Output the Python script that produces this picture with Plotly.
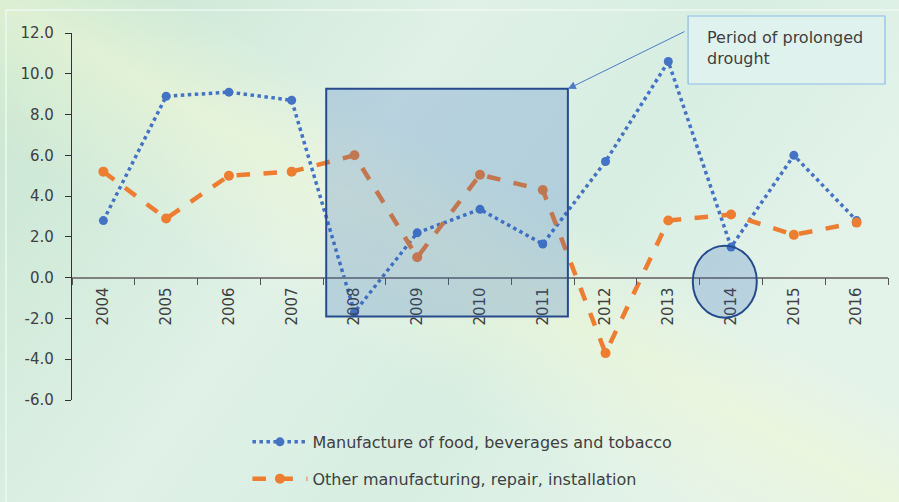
import urllib.parse
import plotly.graph_objects as go

years = ["2004", "2005", "2006", "2007", "2008", "2009", "2010",
         "2011", "2012", "2013", "2014", "2015", "2016"]
food_bev_tobacco = [2.8, 8.9, 9.1, 8.7, -1.7, 2.2, 3.35, 1.65, 5.7, 10.6, 1.5, 6.0, 2.8]
other_manufacturing = [5.2, 2.9, 5.0, 5.2, 6.0, 1.0, 5.05, 4.3, -3.7, 2.8, 3.1, 2.1, 2.7]
y_ticks = [-6, -4, -2, 0, 2, 4, 6, 8, 10, 12]
y_tick_text = ["%.1f" % v for v in y_ticks]

FONT = "DejaVu Sans"
BLUE = "#4472C4"
ORANGE = "#ED7D31"
TEXT = "#404040"

# soft green backdrop as an inline SVG gradient
bg_svg = (
    "<svg xmlns='http://www.w3.org/2000/svg' width='899' height='502' viewBox='0 0 899 502'>"
    "<defs>"
    "<linearGradient id='g' x1='0' y1='0' x2='1' y2='0.4'>"
    "<stop offset='0' stop-color='#c6e5cf'/>"
    "<stop offset='0.45' stop-color='#e0f1e7'/>"
    "<stop offset='0.7' stop-color='#d8eee2'/>"
    "<stop offset='1' stop-color='#e4f3ea'/>"
    "</linearGradient>"
    "<linearGradient id='b' x1='0' y1='1' x2='1' y2='0'>"
    "<stop offset='0.35' stop-color='#f2f8d8' stop-opacity='0'/>"
    "<stop offset='0.5' stop-color='#f0f8d6' stop-opacity='0.55'/>"
    "<stop offset='0.6' stop-color='#f2f8d8' stop-opacity='0'/>"
    "</linearGradient>"
    "</defs>"
    "<rect width='899' height='502' fill='url(#g)'/>"
    "<rect width='899' height='502' fill='url(#b)'/>"
    "<rect x='6' y='10' width='900' height='500' fill='none' stroke='#eef7f1' stroke-width='1.5'/>"
    "</svg>"
)
bg_uri = "data:image/svg+xml;charset=utf-8," + urllib.parse.quote(bg_svg)

fig = go.Figure()

fig.add_trace(go.Scatter(
    x=years, y=food_bev_tobacco, mode="lines+markers",
    name="Manufacture of food, beverages and tobacco",
    legendgroup="a",
    line=dict(color=BLUE, width=3.5, dash="dot"),
    marker=dict(color=BLUE, size=9),
))
fig.add_trace(go.Scatter(
    x=years, y=other_manufacturing, mode="lines+markers",
    name="Other manufacturing, repair, installation",
    legendgroup="b",
    line=dict(color=ORANGE, width=4.5, dash="dash"),
    marker=dict(color=ORANGE, size=10),
))

# highlighted drought period and 2014 dip
fig.add_shape(type="rect", xref="x", yref="y", x0=3.55, x1=7.4, y0=-1.9, y1=9.26,
              line=dict(color="#264a8c", width=2), fillcolor="rgba(40,100,190,0.22)",
              layer="above")
fig.add_shape(type="circle", xref="x", yref="y", x0=9.39, x1=10.41, y0=-1.96, y1=1.57,
              line=dict(color="#264a8c", width=2), fillcolor="rgba(40,100,190,0.22)",
              layer="above")

# callout box, its text and the arrow to the shaded period
fig.add_shape(type="rect", xref="paper", yref="paper", x0=0.755, x1=0.9963, y0=0.861, y1=1.0463,
              line=dict(color="#8dbbe8", width=1.2), fillcolor="rgba(225,242,238,0.85)",
              layer="above")
fig.add_annotation(
    xref="paper", yref="paper", x=0.7757, y=0.959, xanchor="left", yanchor="middle",
    text="Period of prolonged<br>drought", showarrow=False, align="left",
    font=dict(family=FONT, size=16, color=TEXT),
)
fig.add_annotation(
    xref="x", yref="y", x=7.4, y=9.26, text="", showarrow=True,
    axref="pixel", ayref="pixel", ax=118, ay=-58,
    arrowhead=2, arrowsize=1.6, arrowwidth=1, arrowcolor="#4a7cc8",
)

fig.update_layout(
    width=899, height=502,
    margin=dict(l=72, r=11, t=33, b=102, autoexpand=False),
    paper_bgcolor="#dcefe3", plot_bgcolor="rgba(0,0,0,0)",
    font=dict(family=FONT, size=15, color=TEXT),
    images=[dict(source=bg_uri, xref="paper", yref="paper", x=-72/816, y=1 + 33/367,
                 sizex=899/816, sizey=502/367, sizing="stretch", layer="below",
                 xanchor="left", yanchor="top")],
    legend=dict(x=0.215, y=-0.068, xanchor="left", yanchor="top",
                bgcolor="rgba(0,0,0,0)", font=dict(family=FONT, size=16, color=TEXT),
                tracegroupgap=13, itemwidth=55),
    showlegend=True,
)
fig.update_yaxes(
    range=[-6, 12], tickvals=y_ticks, ticktext=y_tick_text, automargin=False,
    showgrid=False, zeroline=False, showline=True, linecolor="#333333", linewidth=1.2,
    ticks="outside", ticklen=6, tickcolor="#333333", ticklabelstandoff=8,
    tickfont=dict(family=FONT, size=15, color=TEXT),
)
fig.update_xaxes(
    type="category", range=[-0.5, 12.5], anchor="free", position=1/3, automargin=False,
    showgrid=False, zeroline=False, showline=True, linecolor="#808080", linewidth=1.5,
    ticks="outside", ticklen=7, tickcolor="#555555", tickson="boundaries",
    ticklabelstandoff=3,
    tickangle=-90, tickfont=dict(family=FONT, size=15, color=TEXT),
)

fig.write_html("out.html")
